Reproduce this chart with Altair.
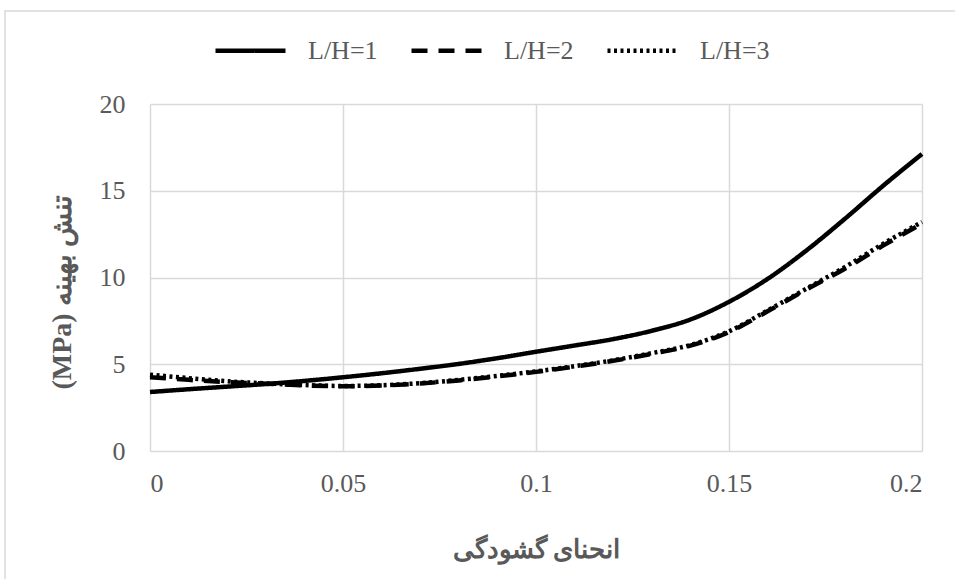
import altair as alt
import pandas as pd

# ---- data ----
x_vals = [0.00, 0.01, 0.02, 0.03, 0.04, 0.05, 0.06, 0.07, 0.08, 0.09, 0.10,
          0.11, 0.12, 0.13, 0.14, 0.15, 0.16, 0.17, 0.18, 0.19, 0.20]
lh1 = [3.40, 3.56, 3.71, 3.86, 4.04, 4.25, 4.48, 4.74, 5.02, 5.35, 5.72,
       6.08, 6.45, 6.93, 7.58, 8.60, 9.92, 11.55, 13.38, 15.30, 17.12]
lh2 = [4.25, 4.10, 3.97, 3.88, 3.78, 3.73, 3.77, 3.89, 4.07, 4.30, 4.56,
       4.86, 5.20, 5.60, 6.07, 6.85, 8.05, 9.30, 10.50, 11.85, 13.10]
lh3 = [4.40, 4.20, 4.02, 3.90, 3.80, 3.75, 3.79, 3.91, 4.10, 4.33, 4.59,
       4.89, 5.23, 5.64, 6.11, 6.90, 8.10, 9.35, 10.60, 11.95, 13.20]
series_names = ["L/H=1", "L/H=2", "L/H=3"]
x_ticks = [0, 0.05, 0.1, 0.15, 0.2]
y_ticks = [0, 5, 10, 15, 20]
x_title = "انحنای گشودگی"
y_title = "(MPa) تنش بهینه"

rows = []
for name, ys in zip(series_names, [lh1, lh2, lh3]):
    for xv, yv in zip(x_vals, ys):
        rows.append({"x": xv, "y": yv, "series": name})
df = pd.DataFrame(rows)

SERIF = "Liberation Serif, Times New Roman, DejaVu Serif, serif"
GRAY = "#595959"
GRID = "#d9d9d9"

frame = alt.Chart(pd.DataFrame({"a": [0]})).mark_rect(
    fill="transparent", stroke=GRID, strokeWidth=1.5
).encode(
    x=alt.value(-145), x2=alt.value(830),
    y=alt.value(-93), y2=alt.value(500),
)

lines = alt.Chart(df).mark_line(
    color="black", strokeWidth=4.5, interpolate="monotone"
).encode(
    x=alt.X("x:Q", scale=alt.Scale(domain=[0, 0.2], nice=False),
            axis=alt.Axis(values=x_ticks, title=x_title, format="~g",
                          labelPadding=19, titlePadding=40)),
    y=alt.Y("y:Q", scale=alt.Scale(domain=[0, 20], nice=False),
            axis=alt.Axis(values=y_ticks, title=y_title,
                          labelPadding=25, titlePadding=23,
                          titleFontSize=28, titleY=188)),
    strokeDash=alt.StrokeDash(
        "series:N", title=None,
        scale=alt.Scale(domain=series_names,
                        range=[[1, 0], [16, 11], [3, 3.5]]),
        legend=alt.Legend(orient="none", legendX=63, legendY=-91,
                          direction="horizontal", symbolType="stroke",
                          symbolSize=4900, symbolStrokeWidth=4.5,
                          symbolStrokeColor="black",
                          labelFont=SERIF, labelFontSize=26,
                          labelColor=GRAY, labelOffset=20,
                          columnPadding=24),
    ),
    order=alt.Order("series:N"),
)

chart = alt.layer(frame, lines).properties(
    width=772, height=347,
    padding={"left": 150, "top": 104, "right": 33, "bottom": 128},
    autosize=alt.AutoSizeParams(type="none"),
    background="white",
).configure_view(stroke=None).configure_axis(
    grid=True, gridColor=GRID, gridWidth=1.5,
    domain=False, ticks=False, tickSize=0,
    labelFont=SERIF, labelFontSize=26, labelColor=GRAY,
    titleFont=SERIF, titleFontSize=26, titleFontWeight="bold",
    titleColor=GRAY,
)

chart.save("out.html", embed_options={"renderer": "svg", "actions": False})
